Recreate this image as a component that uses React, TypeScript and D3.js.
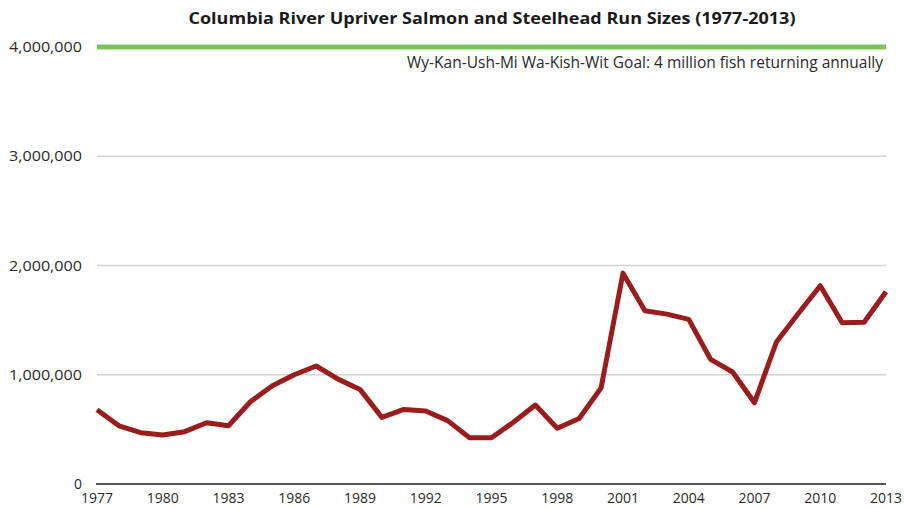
import React from "react";
import * as d3 from "d3";

const years = d3.range(1977, 2014);
const runSizes = [
  680000, 533000, 470000, 448000, 479000, 561000, 533000, 753000, 900000, 1000000,
  1080000, 960000, 866000, 610000, 683000, 668000, 580000, 424000, 424000, 565000,
  723000, 510000, 600000, 880000, 1930000, 1585000, 1555000, 1507000, 1140000, 1025000,
  744000, 1300000, 1560000, 1815000, 1476000, 1480000, 1760000,
];
const yTicks = [0, 1000000, 2000000, 3000000, 4000000];
const xTickYears = [1977, 1980, 1983, 1986, 1989, 1992, 1995, 1998, 2001, 2004, 2007, 2010, 2013];
const goalValue = 4000000;
const title = "Columbia River Upriver Salmon and Steelhead Run Sizes (1977-2013)";
const goalLabel = "Wy-Kan-Ush-Mi Wa-Kish-Wit Goal: 4 million fish returning annually";

const W = 904;
const H = 508;
const left = 97;
const right = 886;
const top = 47;
const bottom = 484;
const font = "'Open Sans', 'DejaVu Sans Condensed', sans-serif";

export default function App() {
  const x = d3.scaleLinear().domain([1977, 2013]).range([left, right]);
  const y = d3.scaleLinear().domain([0, 4000000]).range([bottom, top]);
  const line = d3
    .line<number>()
    .x((_, i) => x(years[i]))
    .y((d) => y(d));
  const fmt = d3.format(",");

  return (
    <svg
      width={W}
      height={H}
      style={{ position: "absolute", left: 0, top: 0, background: "#fff" }}
    >
      <text
        x={492}
        y={24}
        textAnchor="middle"
        fontFamily={font}
        fontWeight="bold"
        fontSize={16.5}
        fill="#1a1a1a"
        textLength={607}
        lengthAdjust="spacingAndGlyphs"
      >
        {title}
      </text>
      {yTicks
        .filter((t) => t !== 0 && t !== goalValue)
        .map((t) => (
          <line
            key={t}
            x1={left}
            x2={right}
            y1={y(t)}
            y2={y(t)}
            stroke="#d4d4d4"
            strokeWidth={1.5}
          />
        ))}
      <line
        x1={left}
        x2={right}
        y1={y(goalValue)}
        y2={y(goalValue)}
        stroke="#7cc55b"
        strokeWidth={5}
      />
      <text
        x={883}
        y={68}
        textAnchor="end"
        fontFamily={font}
        fontSize={15.5}
        fill="#2a2a2a"
        textLength={476}
        lengthAdjust="spacingAndGlyphs"
      >
        {goalLabel}
      </text>
      <line
        x1={left - 1}
        x2={right}
        y1={bottom}
        y2={bottom}
        stroke="#555"
        strokeWidth={2}
      />
      {yTicks.map((t) => (
        <text
          key={t}
          x={82}
          y={y(t) + 5}
          textAnchor="end"
          fontFamily={font}
          fontSize={14}
          fill="#2a2a2a"
          textLength={t === 0 ? undefined : 73}
          lengthAdjust="spacingAndGlyphs"
        >
          {fmt(t)}
        </text>
      ))}
      {xTickYears.map((yr) => (
        <text
          key={yr}
          x={x(yr)}
          y={503}
          textAnchor="middle"
          fontFamily={font}
          fontSize={14}
          fill="#2a2a2a"
          textLength={32}
          lengthAdjust="spacingAndGlyphs"
        >
          {yr}
        </text>
      ))}
      <path
        d={line(runSizes) || ""}
        fill="none"
        stroke="#9a1d1d"
        strokeWidth={5}
        strokeLinejoin="round"
      />
    </svg>
  );
}
